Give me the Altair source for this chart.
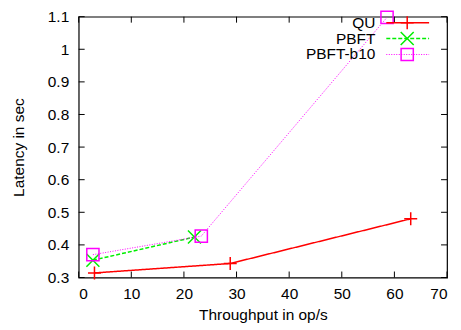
import altair as alt
import pandas as pd

series = ["QU", "PBFT", "PBFT-b10"]
qu_x = [3.0, 28.8, 63.1]
qu_y = [0.314, 0.343, 0.480]
pbft_x = [2.7, 22.0]
pbft_y = [0.353, 0.424]
b10_x = [2.7, 23.3, 58.6]
b10_y = [0.370, 0.427, 1.098]
x_ticks = [0, 10, 20, 30, 40, 50, 60, 70]
y_ticks = [0.3, 0.4, 0.5, 0.6, 0.7, 0.8, 0.9, 1.0, 1.1]

colors = ["#ff0000", "#00ee00", "#ff00ff"]
dashes = [[1, 0], [4, 2], [1, 1.5]]
widths = [1.5, 1.5, 1.0]
shapes = ["M-1,0L1,0M0,-1L0,1", "M-1,-1L1,1M-1,1L1,-1", "square"]
sizes = [170, 170, 150]

W, H = 370, 262
FONT = "Liberation Sans"
FS = 15.5

rows = []
for s, xs, ys in [(series[0], qu_x, qu_y), (series[1], pbft_x, pbft_y), (series[2], b10_x, b10_y)]:
    for a, b in zip(xs, ys):
        rows.append({"series": s, "x": a, "y": b})
df = pd.DataFrame(rows)

xscale = alt.Scale(domain=[0, 70], nice=False, zero=False)
yscale = alt.Scale(domain=[0.3, 1.1], nice=False, zero=False)

xaxis = alt.Axis(values=x_ticks, tickSize=0, domain=False, grid=False,
                 title="Throughput in op/s", labelFont=FONT, labelFontSize=FS,
                 titleFont=FONT, titleFontSize=FS, titleFontWeight="normal",
                 labelPadding=9, titlePadding=6, labelColor="#000", titleColor="#000")
yaxis = alt.Axis(values=y_ticks, tickSize=0, domain=False, grid=False,
                 title="Latency in sec", labelFont=FONT, labelFontSize=FS,
                 titleFont=FONT, titleFontSize=FS, titleFontWeight="normal",
                 labelPadding=10, titlePadding=21, labelColor="#000", titleColor="#000",
                 labelExpr="format(datum.value, '.2~f')")


def X(f):
    return alt.X(f, scale=xscale, axis=xaxis)


def Y(f):
    return alt.Y(f, scale=yscale, axis=yaxis)


base = alt.Chart(df)
layers = []

for i, s in enumerate(series):
    sub = base.transform_filter(alt.datum.series == s)
    layers.append(sub.mark_line(color=colors[i], strokeDash=dashes[i], strokeWidth=widths[i]).encode(
        x=X("x:Q"), y=Y("y:Q")))
    layers.append(sub.mark_point(shape=shapes[i], size=sizes[i], color=colors[i], filled=False,
                                 strokeWidth=1.5, opacity=1).encode(x=X("x:Q"), y=Y("y:Q")))

# inward ticks on all four sides
xt = alt.Chart(pd.DataFrame({"x": x_ticks}))
yt = alt.Chart(pd.DataFrame({"y": y_ticks}))
layers.append(xt.mark_rule(color="#000", strokeWidth=1).encode(
    x=X("x:Q"), y=alt.value(H), y2=alt.value(H - 6)))
layers.append(xt.mark_rule(color="#000", strokeWidth=1).encode(
    x=X("x:Q"), y=alt.value(0), y2=alt.value(6)))
layers.append(yt.mark_rule(color="#000", strokeWidth=1).encode(
    y=Y("y:Q"), x=alt.value(0), x2=alt.value(6)))
layers.append(yt.mark_rule(color="#000", strokeWidth=1).encode(
    y=Y("y:Q"), x=alt.value(W - 6), x2=alt.value(W)))

# gnuplot style key (label left of sample)
leg = alt.Chart(pd.DataFrame({"series": series}))
row_y = [6, 22, 38]
for i, s in enumerate(series):
    ls = leg.transform_filter(alt.datum.series == s)
    layers.append(ls.mark_text(align="right", baseline="middle", font=FONT, fontSize=FS,
                               color="#000").encode(text="series:N", x=alt.value(298), y=alt.value(row_y[i])))
    layers.append(ls.mark_rule(color=colors[i], strokeDash=dashes[i], strokeWidth=widths[i]).encode(
        x=alt.value(309), x2=alt.value(352), y=alt.value(row_y[i])))
    layers.append(ls.mark_point(shape=shapes[i], size=sizes[i], color=colors[i], filled=False,
                                strokeWidth=1.5, opacity=1).encode(x=alt.value(330), y=alt.value(row_y[i])))

chart = alt.layer(*layers).properties(
    width=W, height=H,
    autosize=alt.AutoSizeParams(type="none"),
    padding={"left": 71, "top": 8, "right": 6, "bottom": 48},
).configure_view(stroke="#000", strokeWidth=1.2)

chart.save("out.html", embed_options={"renderer": "svg", "actions": False})
